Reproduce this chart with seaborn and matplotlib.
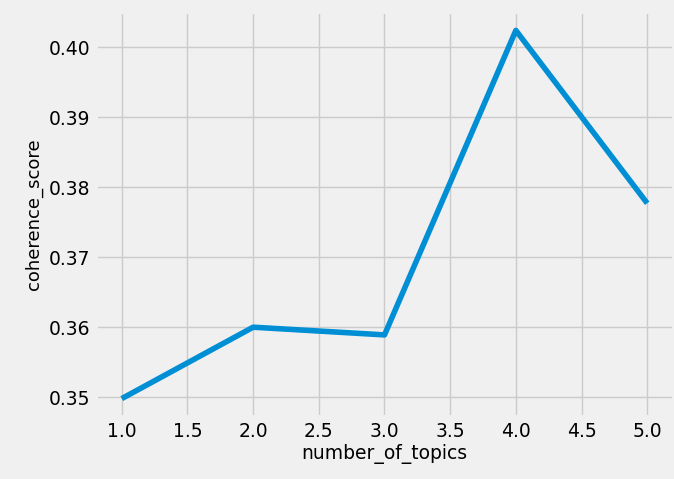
import matplotlib
matplotlib.use("Agg")
import matplotlib.pyplot as plt
import seaborn as sns
import pandas as pd

number_of_topics = [1, 2, 3, 4, 5]
coherence_score = [0.3498, 0.3600, 0.3589, 0.4024, 0.3777]

df = pd.DataFrame({"number_of_topics": number_of_topics,
                   "coherence_score": coherence_score})

plt.style.use("fivethirtyeight")
plt.rcParams["font.family"] = ["DejaVu Sans"]

fig = plt.figure(figsize=(6.74, 4.79), dpi=100)
ax = fig.add_axes([95.5 / 674, 1 - 417 / 479, 578 / 674, 405 / 479])

sns.lineplot(data=df, x="number_of_topics", y="coherence_score",
             color="#008fd5", linewidth=4, ax=ax)

ax.tick_params(labelsize=13.5)
ax.set_xlabel("number_of_topics", fontsize=13.5, labelpad=2)
ax.set_ylabel("coherence_score", fontsize=13, labelpad=4)

fig.savefig("out.png", dpi=100)
